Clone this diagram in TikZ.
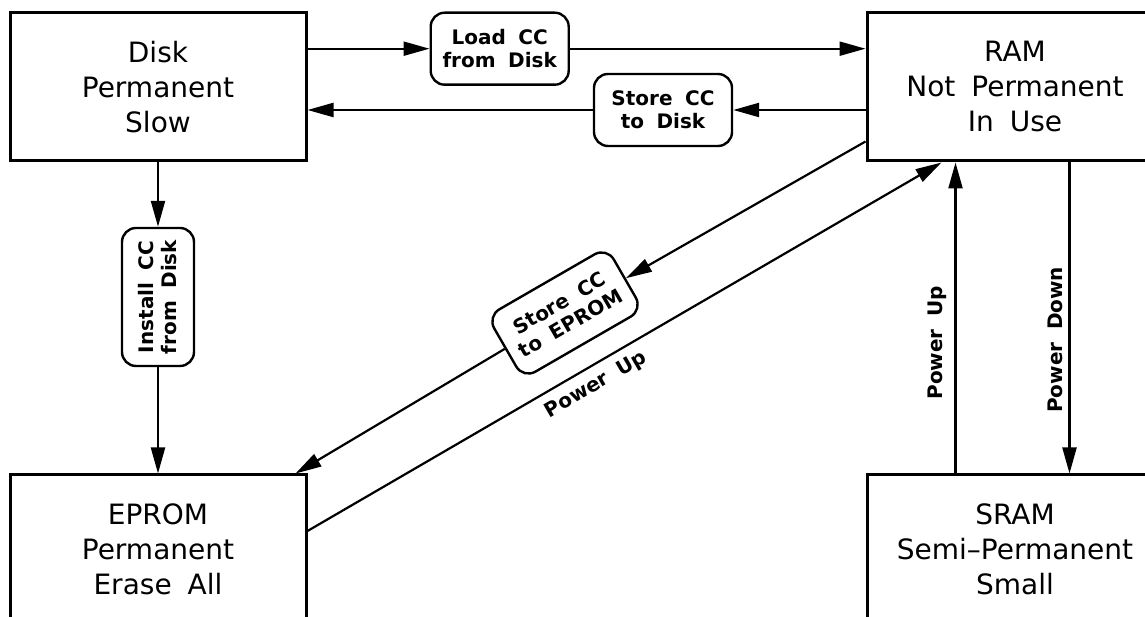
\documentclass[tikz,border=0pt]{standalone}
\usepackage{fontspec}
\setmainfont{DejaVu Sans}[WordSpace=1.8]
\usetikzlibrary{arrows.meta,positioning}
\tikzset{
  memarr/.style={-{Triangle[length=26pt,width=14pt]}, line width=2.2pt},
  memnode/.style={draw, align=center, inner sep=4pt},
  memsmall/.style={font=\fontsize{20}{23}\selectfont\bfseries},
}

\begin{document}
\begin{tikzpicture}[x=1pt, y=1pt,
  membox/.style={memnode, line width=3pt, minimum width=296pt, minimum height=148pt, font=\fontsize{28}{35}\selectfont},
  opbox/.style={memnode, memsmall, line width=2.4pt, rounded corners=14pt, minimum width=138pt, minimum height=72pt},
]
  \useasboundingbox (0,0) rectangle (1145,617);
  \clip (0,0) rectangle (1145,617);
  \node[membox] (disk) at (158,530) {Disk\\Permanent\\Slow};
  \node[membox, right=558pt of disk] (ram) {RAM\\Not Permanent\\In Use};
  \node[membox, below=311pt of disk] (eprom) {EPROM\\Permanent\\Erase All};
  \node[membox, below=311pt of ram] (sram) {SRAM\\Semi--Permanent\\Small};
  \node[opbox, right=122pt of disk.north east, anchor=north west] (load) {Load CC\\from Disk};
  \node[opbox] (storedisk) at (663,507) {Store CC\\to Disk};
  \node[opbox, rotate=90] (install) at (158,320) {Install CC\\from Disk};
  \node[opbox, rotate=30] (storeeprom) at (565,304) {Store CC\\to EPROM};
  \draw[memarr] (disk.east |- load) -- (load);
  \draw[memarr] (load) -- (ram.west |- load);
  \draw[memarr] (ram.west |- storedisk) -- (storedisk);
  \draw[memarr] (storedisk) -- (disk.east |- storedisk);
  \draw[memarr] (disk) -- (install);
  \draw[memarr] (install) -- (eprom);
  \coordinate (ramout) at ([yshift=21pt]ram.south west);
  \coordinate (eprin) at ([xshift=-12pt]eprom.north east);
  \draw[memarr] (ramout) -- (storeeprom);
  \draw[memarr] (storeeprom) -- (eprin);
  \coordinate (eprout) at ([yshift=18pt]eprom.east);
  \coordinate (ramin) at ([xshift=76pt]ram.south west);
  \draw[memarr] (eprout) -- node[memsmall, sloped, below=5pt, pos=0.44] {Power Up} (ramin);
  \draw[memarr] ([xshift=90pt]sram.north west) -- node[memsmall, sloped, above=4pt, pos=0.42] {Power Up} ([xshift=90pt]ram.south west);
  \draw[memarr] ([xshift=204pt]ram.south west) -- node[memsmall, rotate=90, anchor=south, outer sep=3pt, pos=0.57] {Power Down} ([xshift=204pt]sram.north west);
\end{tikzpicture}
\end{document}
